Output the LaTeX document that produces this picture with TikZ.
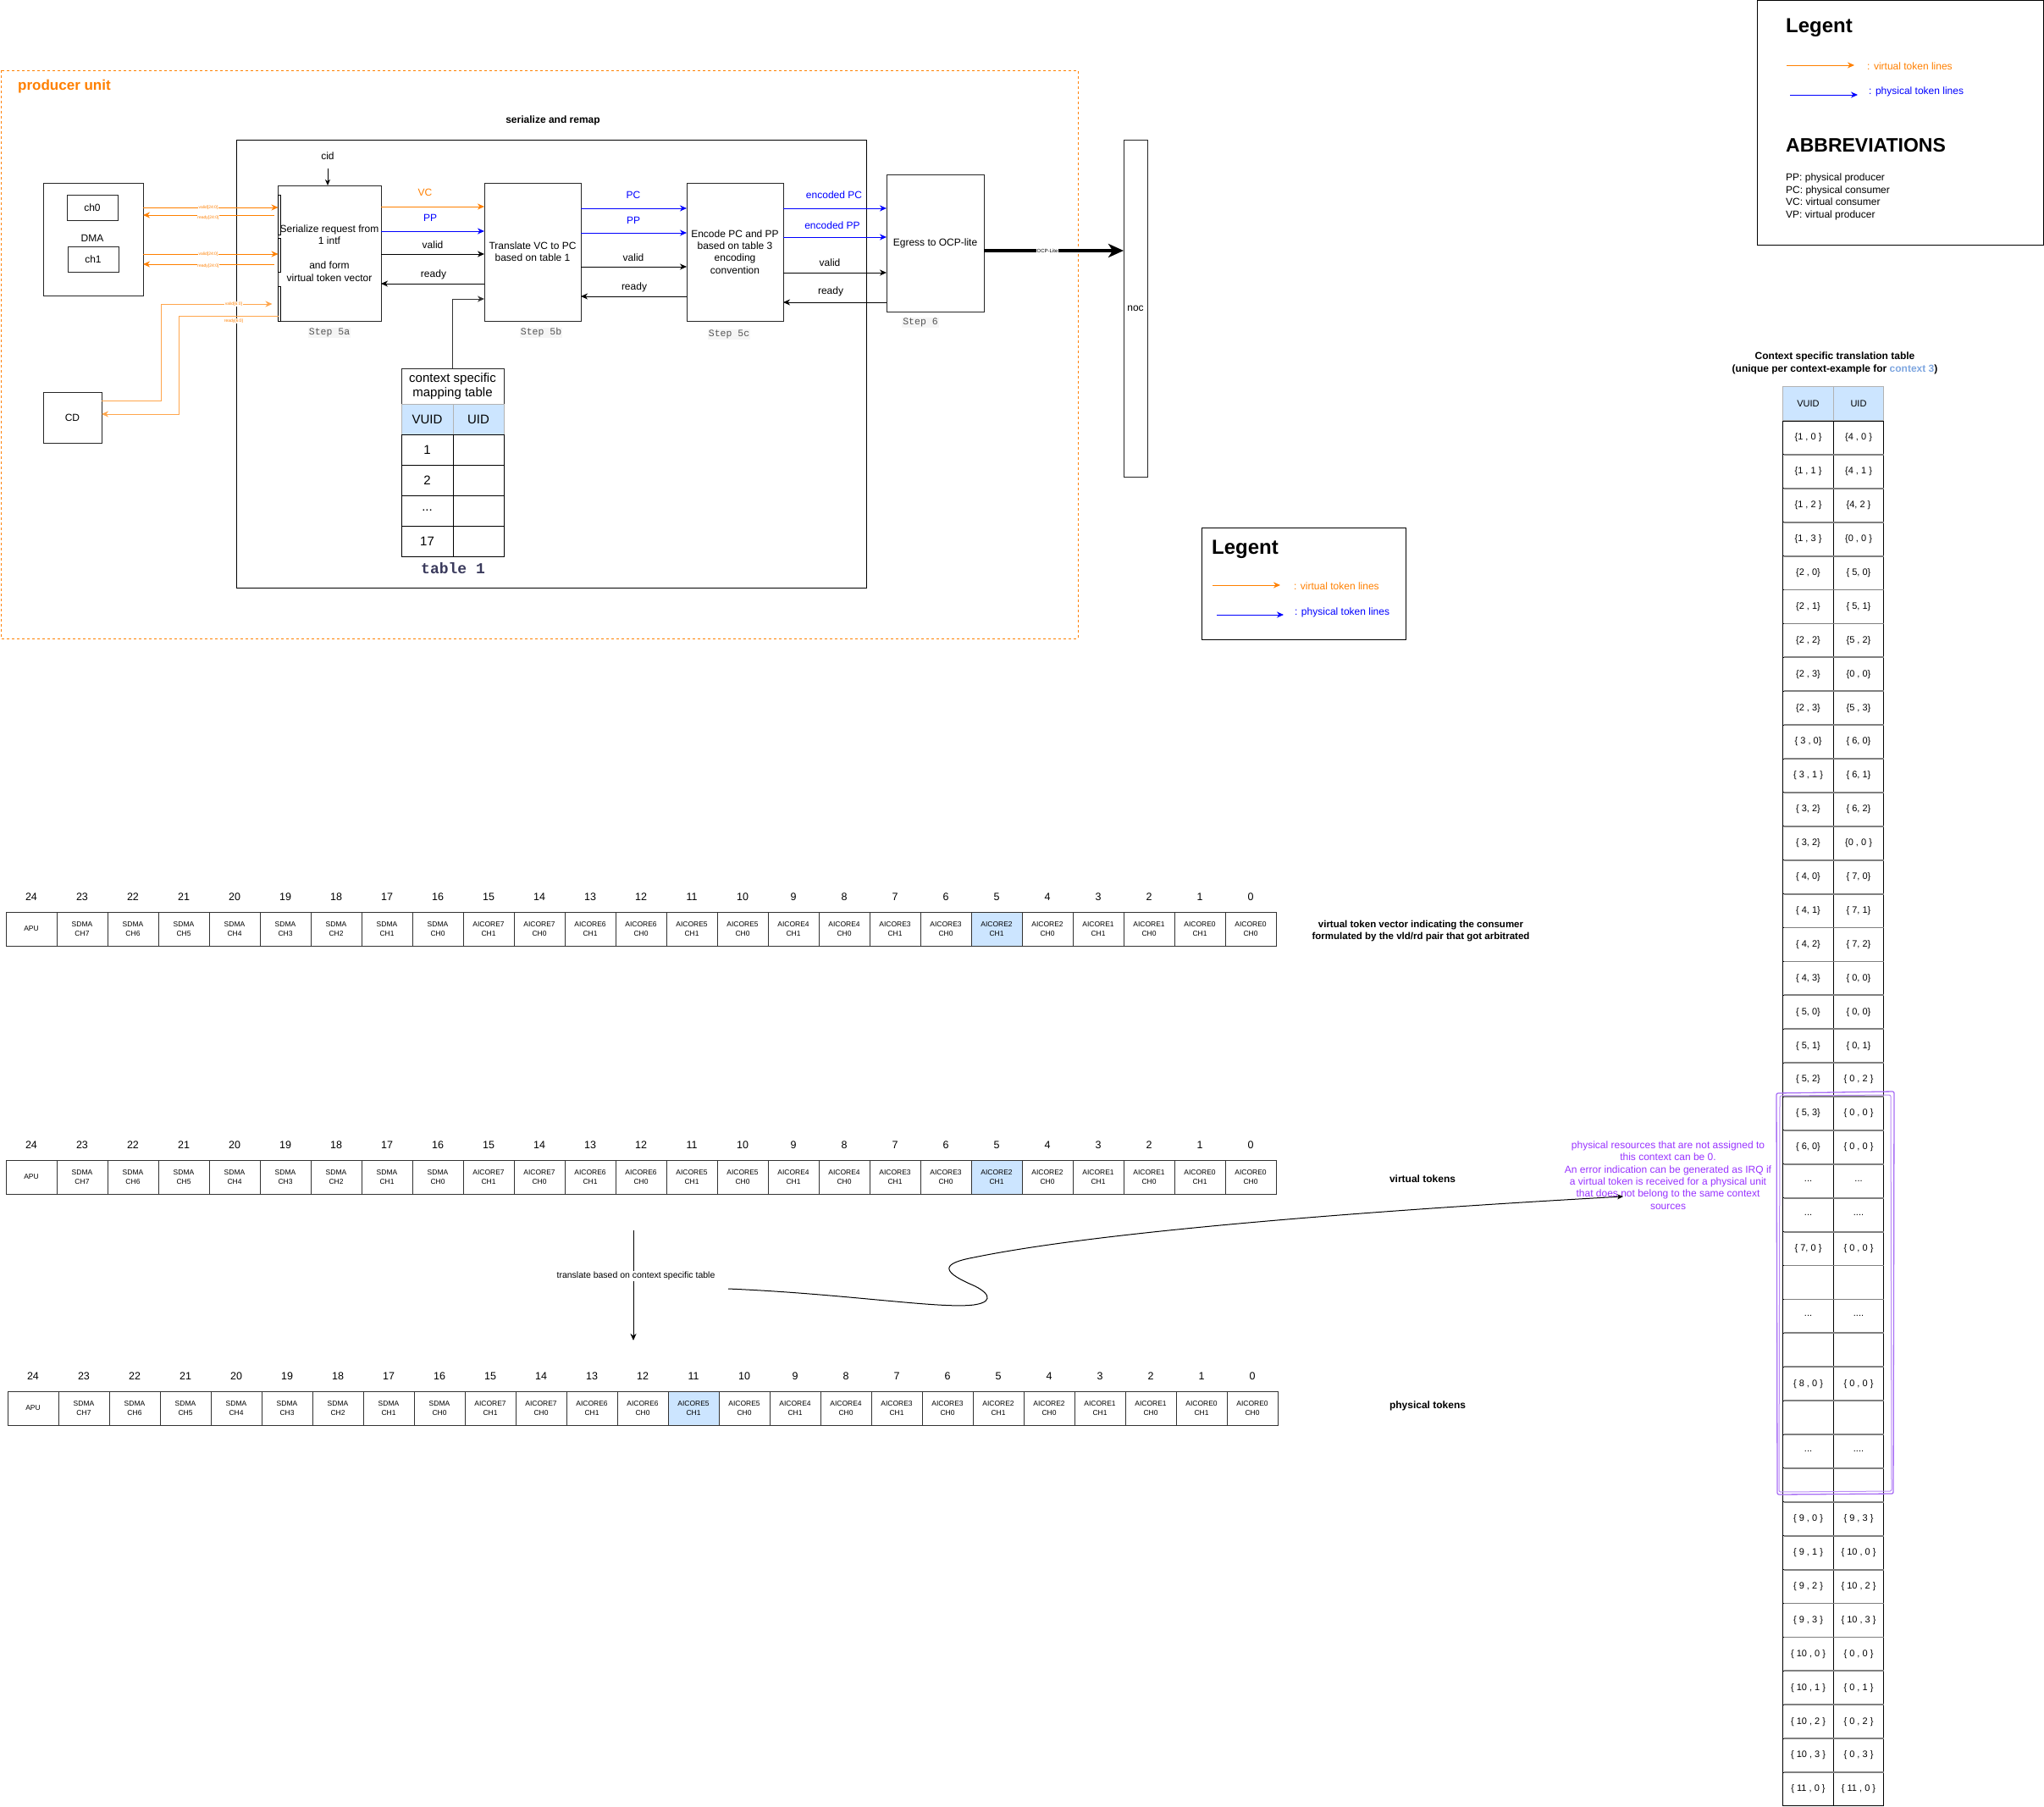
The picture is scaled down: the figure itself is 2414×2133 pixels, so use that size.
\documentclass[tikz,border=0pt]{standalone}
\usepackage{fontspec}
\setmainfont{Liberation Sans}
\setmonofont{Liberation Mono}
\usetikzlibrary{arrows.meta}

\definecolor{vtok}{HTML}{FF8000}
\definecolor{vtoklt}{HTML}{FFA64D}
\definecolor{ptok}{HTML}{0000FF}
\definecolor{hl}{HTML}{CCE5FF}
\definecolor{note}{HTML}{9933FF}
\definecolor{noteframe}{HTML}{A970F5}
\definecolor{ctxblue}{HTML}{7EA6E0}
\definecolor{stepgray}{HTML}{555555}
\definecolor{tabtitle}{HTML}{3A3A5C}
\definecolor{sepgray}{HTML}{808080}

\newcommand\fsz[2]{\fontsize{#1}{#2}\selectfont}

% one 25-bit token vector: #1 name prefix, #2 left x, #3 highlighted bit, #4 centre y
\newcommand\tokrow[4]{%
  \foreach \k in {0,...,24}{%
    \pgfmathtruncatemacro\cx{#2+(24-\k)*60+30}%
    \pgfmathtruncatemacro\core{floor(\k/2)}%
    \pgfmathtruncatemacro\chn{mod(\k,2)}%
    \pgfmathtruncatemacro\sch{\k-16}%
    \ifnum\k=24 \def\ctext{APU}\else
      \ifnum\k>15 \edef\ctext{SDMA\noexpand\\CH\sch}\else
        \edef\ctext{AICORE\core\noexpand\\CH\chn}\fi\fi
    \ifnum\k=#3 \def\cfill{hl}\else\def\cfill{white}\fi
    \node[tokcell, fill=\cfill] (#1\k) at (\cx,#4) {\ctext};
    \node[toknum] (#1n\k) at (\cx,#4-38) {\k};
  }%
}

% one row of the translation table
\newcommand\trow[3]{%
  \node[tcell] (tv#1) at (2135.5,{497+(#1+0.5)*39.9}) {#2};
  \node[tcell] (tu#1) at (2195,{497+(#1+0.5)*39.9}) {#3};
}
\newcommand\cbr[1]{\{#1\}}

\begin{document}
\begin{tikzpicture}[x=1pt, y=-1pt,
  blk/.style={draw=black!85, line width=1pt, fill=white, align=center, font=\fsz{12}{14.4}, inner sep=2pt, outer sep=0pt},
  arr/.style={-{Stealth[length=8pt,width=7pt,inset=2.5pt]}, line width=1pt},
  lab/.style={font=\fsz{12}{14.4}, inner sep=1pt},
  steplab/.style={font=\ttfamily\fsz{11.5}{13}, text=stepgray, fill=black!4, inner sep=1pt},
  tinylab/.style={font=\fsz{5}{6}, fill=white, inner sep=0.5pt, text=vtok},
  portbar/.style={draw=black, fill=white, line width=0.8pt, minimum width=3pt, inner sep=0pt, outer sep=0pt},
  tokcell/.style={draw=black!80, line width=0.8pt, minimum width=60pt, minimum height=40pt, text width=56pt, align=center, inner sep=0pt, font=\fsz{8.5}{10.5}},
  toknum/.style={font=\fsz{12.5}{14}, inner sep=1pt},
  tcell/.style={draw=black, line width=1pt, minimum width=59.5pt, minimum height=39.9pt, inner sep=0pt, font=\fsz{11}{13}},
  t1cell/.style={draw=black, line width=1pt, minimum height=36pt, inner sep=0pt, font=\fsz{15}{17}},
  legtitle/.style={font=\bfseries\fsz{24}{28}, anchor=west, inner sep=0pt},
  legtext/.style={font=\fsz{12}{14.4}, anchor=west, inner sep=0pt},
  boldlab/.style={font=\bfseries\fsz{12}{14.4}, align=center, inner sep=1pt}
]
\useasboundingbox (0,0) rectangle (2414,2133);
\fill[white] (0,0) rectangle (2414,2133);

% ---------------- producer unit ----------------
\draw[vtok, line width=1pt, dash pattern=on 3pt off 3pt] (1,83) rectangle (1273,754);
\node[font=\bfseries\fsz{17}{20}, text=vtok, anchor=west, inner sep=0pt] (ptitle) at (21,102) {producer unit};
\node[boldlab] (srtitle) at (653,142) {serialize and remap};
\node[draw=black, line width=1pt, minimum width=744pt, minimum height=529pt, inner sep=0pt] (cont) at (651,429.5) {};

% sources
\node[blk, minimum width=118pt, minimum height=133pt] (dma) at (110,282.5) {};
\node[blk, minimum width=60pt, minimum height=30pt] (ch0) at (109,245) {ch0};
\node[blk, minimum width=60pt, minimum height=30pt] (ch1) at (110,306) {ch1};
\node[lab] (dmalab) at (109,281) {DMA};
\node[blk, minimum width=69pt, minimum height=60pt] (cd) at (85.5,493) {CD};

% processing steps
\node[blk, minimum width=122pt, minimum height=160pt] (s5a) at (389,299) {Serialize request from\\1 intf\\[14.4pt]and form\\virtual token vector};
\node[portbar, minimum height=47pt] (pa) at (330,253.5) {};
\node[portbar, minimum height=40pt] (pb) at (330,301) {};
\node[portbar, minimum height=41pt] (pc) at (330,358.5) {};
\node[blk, minimum width=114pt, minimum height=163pt] (s5b) at (629,297.5) {Translate VC to PC\\based on table 1};
\node[blk, minimum width=114pt, minimum height=163pt] (s5c) at (868,297.5) {Encode PC and PP\\based on table 3\\encoding\\convention};
\node[blk, minimum width=115pt, minimum height=162pt] (eg) at (1104.5,287) {Egress to OCP-lite};
\node[blk, minimum width=28pt, minimum height=398pt] (noc) at (1341,364) {noc};

\node[steplab] (st5a) at (389,393) {Step 5a};
\node[steplab] (st5b) at (639,393) {Step 5b};
\node[steplab] (st5c) at (861,395) {Step 5c};
\node[steplab] (st6) at (1087,381) {Step 6};

% context id input
\node[lab] (cid) at (387,184) {cid};
\draw[arr, -{Stealth[length=7pt,width=6pt,inset=2pt]}] (cid.south |- 0,199) -- (cid.south |- s5a.north);

% DMA / CD handshakes
\draw[vtok, arr] (dma.east |- 0,245) -- (pa.west |- 0,245);
\draw[vtok, arr] ([xshift=-5pt]pa.west |- 0,254) -- (dma.east |- 0,254);
\draw[vtok, arr] (dma.east |- 0,300) -- (pb.west |- 0,300);
\draw[vtok, arr] ([xshift=-5pt]pb.west |- 0,312) -- (dma.east |- 0,312);
\draw[vtoklt, arr] (cd.east |- 0,473) -- (190,473) -- (190,359) -- ([xshift=-7pt]pc.west |- 0,359);
\draw[vtoklt, arr] (pc.west |- 0,373) -- (211,373) -- (211,489) -- (cd.east |- 0,489);
\node[tinylab] (lv1) at (246,245) {valid[24:0]};
\node[tinylab] (lr1) at (246,257) {ready[24:0]};
\node[tinylab] (lv2) at (246,300) {valid[24:0]};
\node[tinylab] (lr2) at (246,314) {ready[24:0]};
\node[tinylab] (lv3) at (276,359) {valid[6:0]};
\node[tinylab] (lr3) at (276,379) {ready[6:0]};

% step 5a -> step 5b
\draw[vtok, arr] (s5a.east |- 0,244) -- (s5b.west |- 0,244);
\draw[ptok, arr] (s5a.east |- 0,273) -- (s5b.west |- 0,273);
\draw[arr] (s5a.east |- 0,300) -- (s5b.west |- 0,300);
\draw[arr] (s5b.west |- 0,335) -- (s5a.east |- 0,335);
\node[lab, text=vtok] (lvc) at (502,227) {VC};
\node[lab, text=ptok] (lpp1) at (508,257) {PP};
\node[lab] (lva1) at (511,289) {valid};
\node[lab] (lre1) at (512,324) {ready};

% step 5b -> step 5c
\draw[ptok, arr] (s5b.east |- 0,246) -- (s5c.west |- 0,246);
\draw[ptok, arr] (s5b.east |- 0,275) -- (s5c.west |- 0,275);
\draw[arr] (s5b.east |- 0,315) -- (s5c.west |- 0,315);
\draw[arr] (s5c.west |- 0,350) -- (s5b.east |- 0,350);
\node[lab, text=ptok] (lpc2) at (748,230) {PC};
\node[lab, text=ptok] (lpp2) at (748,260) {PP};
\node[lab] (lva2) at (748,304) {valid};
\node[lab] (lre2) at (749,339) {ready};

% step 5c -> step 6
\draw[ptok, arr] (s5c.east |- 0,246) -- (eg.west |- 0,246);
\draw[ptok, arr] (s5c.east |- 0,280) -- (eg.west |- 0,280);
\draw[arr] (s5c.east |- 0,322) -- (eg.west |- 0,322);
\draw[arr] (eg.west |- 0,357) -- (s5c.east |- 0,357);
\node[lab, text=ptok] (lepc) at (985,230) {encoded PC};
\node[lab, text=ptok] (lepp) at (983,266) {encoded PP};
\node[lab] (lva3) at (980,310) {valid};
\node[lab] (lre3) at (981,344) {ready};

% egress to the noc
\draw[line width=3.5pt, -{Stealth[length=18pt,width=16pt,inset=5pt]}] (eg.east |- 0,296) -- (noc.west |- 0,296);
\node[font=\fsz{6}{7}, fill=white, inner sep=0.5pt] (locp) at (1237,296) {OCP-Lite};

% table 1
\node[blk, minimum width=121pt, minimum height=42pt, font=\fsz{15}{17}, inner sep=0pt] (t1title) at (534.5,456) {context specific\\mapping table};
\node[t1cell, fill=hl, draw=black!30, minimum width=61pt] (t1h1) at (504.5,495) {VUID};
\node[t1cell, fill=hl, draw=black!30, minimum width=60pt] (t1h2) at (565,495) {UID};
\node[t1cell, minimum width=61pt] (t1a1) at (504.5,531) {1};
\node[t1cell, minimum width=60pt] (t1b1) at (565,531) {};
\node[t1cell, minimum width=61pt] (t1a2) at (504.5,567) {2};
\node[t1cell, minimum width=60pt] (t1b2) at (565,567) {};
\node[t1cell, minimum width=61pt] (t1a3) at (504.5,603) {...};
\node[t1cell, minimum width=60pt] (t1b3) at (565,603) {};
\node[t1cell, minimum width=61pt] (t1a4) at (504.5,639) {17};
\node[t1cell, minimum width=60pt] (t1b4) at (565,639) {};
\node[font=\ttfamily\bfseries\fsz{18}{20}, text=tabtitle] (t1cap) at (535,671) {table 1};
\draw[arr, draw=black!80] (t1title.north) |- (s5b.west |- 0,353);

% ---------------- legends ----------------
\node[draw=black, line width=1pt, minimum width=338pt, minimum height=288pt, inner sep=0pt] (leg1) at (2244,145) {};
\node[legtitle] (leg1t) at (2109,33) {Legent};
\coordinate (l1a) at (2110,77); \coordinate (l1b) at (2190,77);
\coordinate (l1c) at (2114,112); \coordinate (l1d) at (2194,112);
\draw[vtok, arr] (l1a) -- (l1b);
\draw[ptok, arr] (l1c) -- (l1d);
\node[legtext, text=vtok] (leg1v) at (2205,78) {: virtual token lines};
\node[legtext, text=ptok] (leg1p) at (2207,108) {: physical token lines};
\node[font=\bfseries\fsz{23}{27}, anchor=west, inner sep=0pt] (abbt) at (2109,172) {ABBREVIATIONS};
\node[font=\fsz{12}{14.5}, align=left, anchor=north west, inner sep=0pt] (abbr) at (2109,205) {PP: physical producer\\PC: physical consumer\\VC: virtual consumer\\VP: virtual producer};

\node[draw=black, line width=1pt, minimum width=241pt, minimum height=132pt, inner sep=0pt] (leg2) at (1539.5,689) {};
\node[legtitle] (leg2t) at (1431,649) {Legent};
\coordinate (l2a) at (1432,691); \coordinate (l2b) at (1512,691);
\coordinate (l2c) at (1437,726); \coordinate (l2d) at (1516,726);
\draw[vtok, arr] (l2a) -- (l2b);
\draw[ptok, arr] (l2c) -- (l2d);
\node[legtext, text=vtok] (leg2v) at (1528,692) {: virtual token lines};
\node[legtext, text=ptok] (leg2p) at (1529,723) {: physical token lines};

% ---------------- token vectors ----------------
\tokrow{va}{7}{5}{1097}
\tokrow{vb}{7}{5}{1390}
\tokrow{vc}{9}{11}{1663}
\node[font=\bfseries\fsz{11.5}{14}, align=center, inner sep=1pt] (valab) at (1678,1100) {virtual token vector indicating the consumer\\formulated by the vld/rd pair that got arbitrated};
\node[boldlab] (vblab) at (1680,1392) {virtual tokens};
\node[boldlab] (vclab) at (1686,1660) {physical tokens};

% translation step between the vectors
\coordinate (tra) at (748,1453);
\coordinate (trb) at (748,1583);
\draw[arr] (tra) -- (trb);
\node[font=\fsz{10.5}{12}, fill=white, inner sep=1pt] (trlab) at (751,1507) {translate based on context specific table};

% note on unassigned resources
\node[font=\fsz{12}{14.4}, text=note, align=center, inner sep=0pt] (pnote) at (1970,1388) {physical resources that are not assigned to\\this context can be 0.\\An error indication can be generated as IRQ if\\a virtual token is received for a physical unit\\that does not belong to the same context\\sources};
\coordinate (cs) at (860,1522);
\coordinate (ce) at (1917,1413);
\draw[line width=1pt, -{Stealth[length=7pt,width=6pt,inset=2pt]}] (cs) .. controls (1000,1528) and (1110,1546) .. (1150,1541)
  .. controls (1178,1537) and (1165,1524) .. (1145,1516)
  .. controls (1112,1501) and (1112,1492) .. (1150,1485)
  .. controls (1320,1450) and (1700,1425) .. (ce);

% ---------------- translation table ----------------
\node[boldlab] (ttitle) at (2167,429) {Context specific translation table\\(unique per context-example for \textcolor{ctxblue}{context 3})};
\node[tcell, fill=hl, draw=black!30] (th1) at (2135.5,476.5) {VUID};
\node[tcell, fill=hl, draw=black!30] (th2) at (2195,476.5) {UID};
\trow{0}{\cbr{1 , 0 }}{\cbr{4 , 0 }}
\trow{1}{\cbr{1 , 1 }}{\cbr{4 , 1 }}
\trow{2}{\cbr{1 , 2 }}{\cbr{4, 2 }}
\trow{3}{\cbr{1 , 3 }}{\cbr{0 , 0 }}
\trow{4}{\cbr{2 , 0}}{\cbr{ 5, 0}}
\trow{5}{\cbr{2 , 1}}{\cbr{ 5, 1}}
\trow{6}{\cbr{2 , 2}}{\cbr{5 , 2}}
\trow{7}{\cbr{2 , 3}}{\cbr{0 , 0}}
\trow{8}{\cbr{2 , 3}}{\cbr{5 , 3}}
\trow{9}{\cbr{ 3 , 0}}{\cbr{ 6, 0}}
\trow{10}{\cbr{ 3 , 1 }}{\cbr{ 6, 1}}
\trow{11}{\cbr{ 3, 2}}{\cbr{ 6, 2}}
\trow{12}{\cbr{ 3, 2}}{\cbr{0 , 0 }}
\trow{13}{\cbr{ 4, 0}}{\cbr{ 7, 0}}
\trow{14}{\cbr{ 4, 1}}{\cbr{ 7, 1}}
\trow{15}{\cbr{ 4, 2}}{\cbr{ 7, 2}}
\trow{16}{\cbr{ 4, 3}}{\cbr{ 0, 0}}
\trow{17}{\cbr{ 5, 0}}{\cbr{ 0, 0}}
\trow{18}{\cbr{ 5, 1}}{\cbr{ 0, 1}}
\trow{19}{\cbr{ 5, 2}}{\cbr{ 0 , 2 }}
\trow{20}{\cbr{ 5, 3}}{\cbr{ 0 , 0 }}
\trow{21}{\cbr{ 6, 0}}{\cbr{ 0 , 0 }}
\trow{22}{...}{...}
\trow{23}{...}{....}
\trow{24}{\cbr{ 7, 0 }}{\cbr{ 0 , 0 }}
\trow{25}{}{}
\trow{26}{...}{....}
\trow{27}{}{}
\trow{28}{\cbr{ 8 , 0 }}{\cbr{ 0 , 0 }}
\trow{29}{}{}
\trow{30}{...}{....}
\trow{31}{}{}
\trow{32}{\cbr{ 9 , 0 }}{\cbr{ 9 , 3 }}
\trow{33}{\cbr{ 9 , 1 }}{\cbr{ 10 , 0 }}
\trow{34}{\cbr{ 9 , 2 }}{\cbr{ 10 , 2 }}
\trow{35}{\cbr{ 9 , 3 }}{\cbr{ 10 , 3 }}
\trow{36}{\cbr{ 10 , 0 }}{\cbr{ 0 , 0 }}
\trow{37}{\cbr{ 10 , 1 }}{\cbr{ 0 , 1 }}
\trow{38}{\cbr{ 10 , 2 }}{\cbr{ 0 , 2 }}
\trow{39}{\cbr{ 10 , 3 }}{\cbr{ 0 , 3 }}
\trow{40}{\cbr{ 11 , 0 }}{\cbr{ 11 , 0 }}
% grey row separators
\foreach \i in {1,...,40}{
  \draw[sepgray, line width=1.8pt] (2106.5,{497+\i*39.9}) -- (2224.5,{497+\i*39.9});
}

% frame around the rows of unassigned resources
\draw[noteframe, line width=1.3pt, rounded corners=2pt] (2098,1291) -- (2237,1289) -- (2236,1764) -- (2099,1765) -- cycle;
\draw[noteframe!80, line width=1pt, rounded corners=2pt] (2102,1294) -- (2233,1293) -- (2234,1761) -- (2101,1762) -- cycle;

\end{tikzpicture}
\end{document}
